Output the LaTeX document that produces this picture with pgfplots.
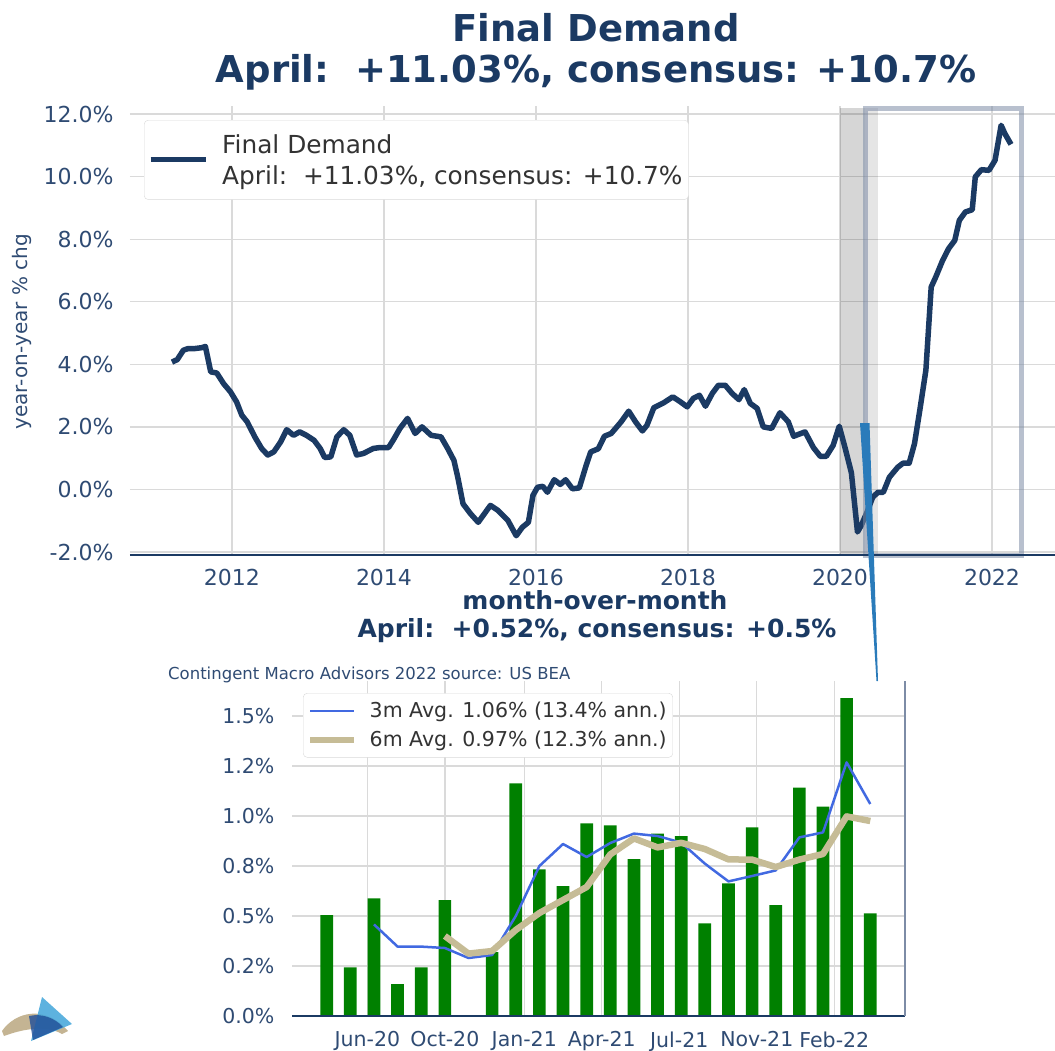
\documentclass[border=0pt]{standalone}
\usepackage{pgfplots}
\usepackage{pgfplotstable}
\pgfplotsset{compat=1.18}
\usepackage{fontspec}
\setmainfont{DejaVu Sans}
\definecolor{navy}{HTML}{1B3A63}
\definecolor{ticknavy}{HTML}{2F4B73}
\definecolor{lgtext}{HTML}{333333}
\definecolor{gridc}{HTML}{DADADA}
\definecolor{barg}{HTML}{008000}
\definecolor{royal}{HTML}{4169E1}
\definecolor{tanl}{HTML}{C6BC96}
\definecolor{slate}{HTML}{7D8CA6}
\definecolor{wedge}{HTML}{2A7BBA}
\definecolor{logotan}{HTML}{C4B493}
\definecolor{logolight}{HTML}{4BAADB}
\definecolor{logodark}{HTML}{1F4E98}

\pgfplotstableread{
year val
2011.21 4.07
2011.28 4.15
2011.36 4.45
2011.42 4.50
2011.50 4.50
2011.60 4.53
2011.65 4.57
2011.72 3.76
2011.80 3.72
2011.89 3.38
2011.98 3.12
2012.06 2.80
2012.13 2.37
2012.20 2.16
2012.30 1.68
2012.39 1.31
2012.47 1.10
2012.55 1.20
2012.64 1.52
2012.72 1.91
2012.81 1.73
2012.89 1.84
2012.98 1.73
2013.08 1.57
2013.16 1.31
2013.22 1.02
2013.30 1.04
2013.38 1.68
2013.47 1.91
2013.55 1.73
2013.64 1.10
2013.73 1.15
2013.86 1.31
2013.95 1.34
2014.06 1.34
2014.12 1.57
2014.21 1.95
2014.31 2.27
2014.41 1.79
2014.50 2.00
2014.62 1.73
2014.75 1.68
2014.84 1.30
2014.92 0.93
2014.97 0.40
2015.04 -0.46
2015.14 -0.78
2015.24 -1.05
2015.32 -0.78
2015.40 -0.51
2015.50 -0.67
2015.63 -0.99
2015.74 -1.48
2015.82 -1.21
2015.90 -1.05
2015.96 -0.19
2016.02 0.07
2016.09 0.10
2016.15 -0.09
2016.24 0.31
2016.32 0.16
2016.39 0.31
2016.48 0.02
2016.57 0.05
2016.66 0.77
2016.72 1.20
2016.82 1.30
2016.90 1.70
2016.99 1.79
2017.12 2.16
2017.22 2.50
2017.31 2.16
2017.40 1.87
2017.46 2.05
2017.55 2.61
2017.68 2.77
2017.80 2.96
2017.90 2.80
2017.99 2.64
2018.07 2.91
2018.15 3.01
2018.23 2.66
2018.32 3.07
2018.40 3.33
2018.49 3.33
2018.58 3.07
2018.67 2.87
2018.74 3.19
2018.82 2.75
2018.91 2.59
2018.99 2.00
2019.10 1.95
2019.21 2.45
2019.32 2.16
2019.39 1.70
2019.54 1.84
2019.65 1.34
2019.74 1.06
2019.82 1.06
2019.91 1.41
2019.99 2.02
2020.07 1.30
2020.15 0.53
2020.23 -1.36
2020.28 -1.15
2020.36 -0.70
2020.43 -0.25
2020.50 -0.09
2020.57 -0.09
2020.65 0.39
2020.76 0.71
2020.83 0.84
2020.91 0.84
2020.98 1.46
2021.05 2.53
2021.13 3.81
2021.20 6.47
2021.26 6.79
2021.35 7.32
2021.43 7.70
2021.51 7.96
2021.57 8.60
2021.65 8.87
2021.74 8.94
2021.78 9.99
2021.86 10.22
2021.96 10.20
2022.04 10.52
2022.12 11.64
2022.17 11.37
2022.25 11.03
}\fdtable

\pgfplotstableread{
i mom
0 0.505
1 0.243
2 0.588
3 0.160
4 0.243
5 0.580
6 0.000
7 0.320
8 1.163
9 0.733
10 0.650
11 0.963
12 0.953
13 0.785
14 0.912
15 0.900
16 0.463
17 0.663
18 0.943
19 0.555
20 1.142
21 1.047
22 1.590
23 0.513
}\momtable

\pgfplotstableread{
i avg
2 0.458
3 0.347
4 0.347
5 0.340
6 0.290
7 0.305
8 0.500
9 0.750
10 0.860
11 0.795
12 0.865
13 0.912
14 0.900
15 0.867
16 0.762
17 0.673
18 0.700
19 0.728
20 0.893
21 0.918
22 1.268
23 1.060
}\threetable

\pgfplotstableread{
i avg
5 0.400
6 0.312
7 0.325
8 0.430
9 0.515
10 0.580
11 0.645
12 0.808
13 0.888
14 0.843
15 0.866
16 0.835
17 0.783
18 0.782
19 0.745
20 0.782
21 0.810
22 0.998
23 0.975
}\sixtable

\begin{document}
\begin{tikzpicture}[x=1pt,y=1pt]
% titles
\node[font=\bfseries\fontsize{37}{44}\selectfont, text=navy] at (596pt,-28pt) {Final Demand};
\node[font=\bfseries\fontsize{37}{44}\selectfont, text=navy] at (596pt,-72pt) {April:\ \ +11.03\%, consensus: +10.7\%};

\begin{axis}[
  at={(130pt,-555pt)}, anchor=south west,
  scale only axis, width=925pt, height=449pt,
  xmin=2010.658, xmax=2022.829, ymin=-2.096, ymax=12.256,
  clip=false,
  axis line style={draw=none},
  tick style={draw=none},
  xtick={2012,2014,2016,2018,2020,2022},
  xticklabels={2012,2014,2016,2018,2020,2022},
  ytick={-2,0,2,4,6,8,10,12},
  yticklabels={-2.0\%,0.0\%,2.0\%,4.0\%,6.0\%,8.0\%,10.0\%,12.0\%},
  grid=major, major grid style={gridc, line width=1.3pt},
  tick label style={font=\fontsize{22}{26}\selectfont, text=ticknavy},
  xticklabel style={yshift=-11pt},
  yticklabel style={xshift=-13pt},
  ylabel={year-on-year \% chg},
  ylabel style={font=\fontsize{20}{24}\selectfont, text=ticknavy, at={(axis description cs:-0.1168,0.497)}, anchor=center},
  legend style={at={(axis description cs:0.01514,0.9688)}, anchor=north west,
    draw=black!15, rounded corners=4pt, fill=white,
    font=\fontsize{24.8}{31}\selectfont, text=lgtext,
    inner xsep=4pt, inner ysep=12pt, cells={align=left},
    /tikz/every odd column/.append style={column sep=12pt},
    /tikz/every even column/.append style={column sep=16pt}},
  legend cell align=left,
  legend image code/.code={\draw[#1, line width=5pt] (0pt,0pt) -- (55pt,0pt);},
]
\fill[black, opacity=0.16] (axis cs:2020.0,-2.096) rectangle (axis cs:2020.33,12.2);
\fill[black, opacity=0.10] (axis cs:2020.33,-2.096) rectangle (axis cs:2020.5,12.2);
\addplot[navy, line width=5.5pt, line join=round] table[x=year, y=val] {\fdtable};
\addlegendentry{Final Demand\\April:\ \ +11.03\%, consensus: +10.7\%}
\draw[slate, opacity=0.55, line width=5pt] (axis cs:2020.33,-2.096) rectangle (axis cs:2022.39,12.19);
\draw[navy, line width=2.5pt] (rel axis cs:0,0) -- (rel axis cs:1,0);
\end{axis}

% connector wedge
\fill[wedge] (860pt,-423pt) -- (869.5pt,-423pt) -- (878pt,-681pt) -- (876.5pt,-681pt) -- cycle;

% lower titles
\node[font=\bfseries\fontsize{25}{30}\selectfont, text=navy] at (595pt,-600pt) {month-over-month};
\node[font=\bfseries\fontsize{25}{30}\selectfont, text=navy] at (597pt,-631pt) {April:\ \ +0.52\%, consensus: +0.5\%};
\node[anchor=west, inner sep=0pt, font=\fontsize{16.5}{20}\selectfont, text=ticknavy] at (168pt,-675pt) {Contingent Macro Advisors 2022 source: US BEA};

\begin{axis}[
  at={(292pt,-1016pt)}, anchor=south west,
  scale only axis, width=613pt, height=335pt,
  xmin=-1.468, xmax=24.47, ymin=0, ymax=1.675,
  clip=false,
  axis line style={draw=none},
  tick style={draw=none},
  xtick={1.72,5.0,8.36,11.64,14.92,18.2,21.48},
  xticklabels={Jun-20,Oct-20,Jan-21,Apr-21,Jul-21,Nov-21,Feb-22},
  ytick={0,0.25,0.5,0.75,1.0,1.25,1.5},
  yticklabels={0.0\%,0.2\%,0.5\%,0.8\%,1.0\%,1.2\%,1.5\%},
  grid=major, major grid style={gridc, line width=1.3pt},
  tick label style={font=\fontsize{20.5}{24}\selectfont, text=ticknavy},
  xticklabel style={yshift=-12pt},
  yticklabel style={xshift=-14pt},
  legend style={at={(axis description cs:0.018,0.964)}, anchor=north west,
    draw=black!15, rounded corners=4pt, fill=white,
    font=\fontsize{20.5}{24}\selectfont, text=lgtext,
    inner xsep=4pt, inner ysep=7pt, row sep=8pt,
    /tikz/every odd column/.append style={column sep=10pt},
    /tikz/every even column/.append style={column sep=8pt}},
  legend cell align=left,
  legend image code/.code={\draw[#1] (0pt,0pt) -- (44pt,0pt);},
]
\addplot[ybar, bar width=12.7pt, fill=barg, draw=none, forget plot] table[x=i, y=mom] {\momtable};
\addplot[royal, line width=2.5pt, line join=round] table[x=i, y=avg] {\threetable};
\addlegendentry{3m Avg. 1.06\% (13.4\% ann.)}
\addplot[tanl, line width=6.5pt, line join=round] table[x=i, y=avg] {\sixtable};
\addlegendentry{6m Avg. 0.97\% (12.3\% ann.)}
\draw[navy, line width=2pt] (rel axis cs:0,0) -- (rel axis cs:1,0);
\draw[slate, line width=2pt] (rel axis cs:1,0) -- (rel axis cs:1,1);
\end{axis}

% logo
\fill[logotan] (2pt,-1031pt) .. controls (15pt,-1012pt) and (45pt,-1004pt) .. (68pt,-1031pt) -- (62pt,-1034pt) .. controls (45pt,-1024pt) and (20pt,-1030pt) .. (4pt,-1036pt) -- cycle;
\fill[logolight, opacity=0.9] (42pt,-997pt) -- (72pt,-1024pt) -- (31pt,-1041pt) -- cycle;
\fill[logodark, opacity=0.8] (29pt,-1016pt) .. controls (42pt,-1013pt) and (55pt,-1018pt) .. (63pt,-1027pt) -- (33pt,-1040pt) -- cycle;

\pgfresetboundingbox
\path[use as bounding box] (0pt,0pt) rectangle (1055pt,-1050pt);
\end{tikzpicture}
\end{document}
